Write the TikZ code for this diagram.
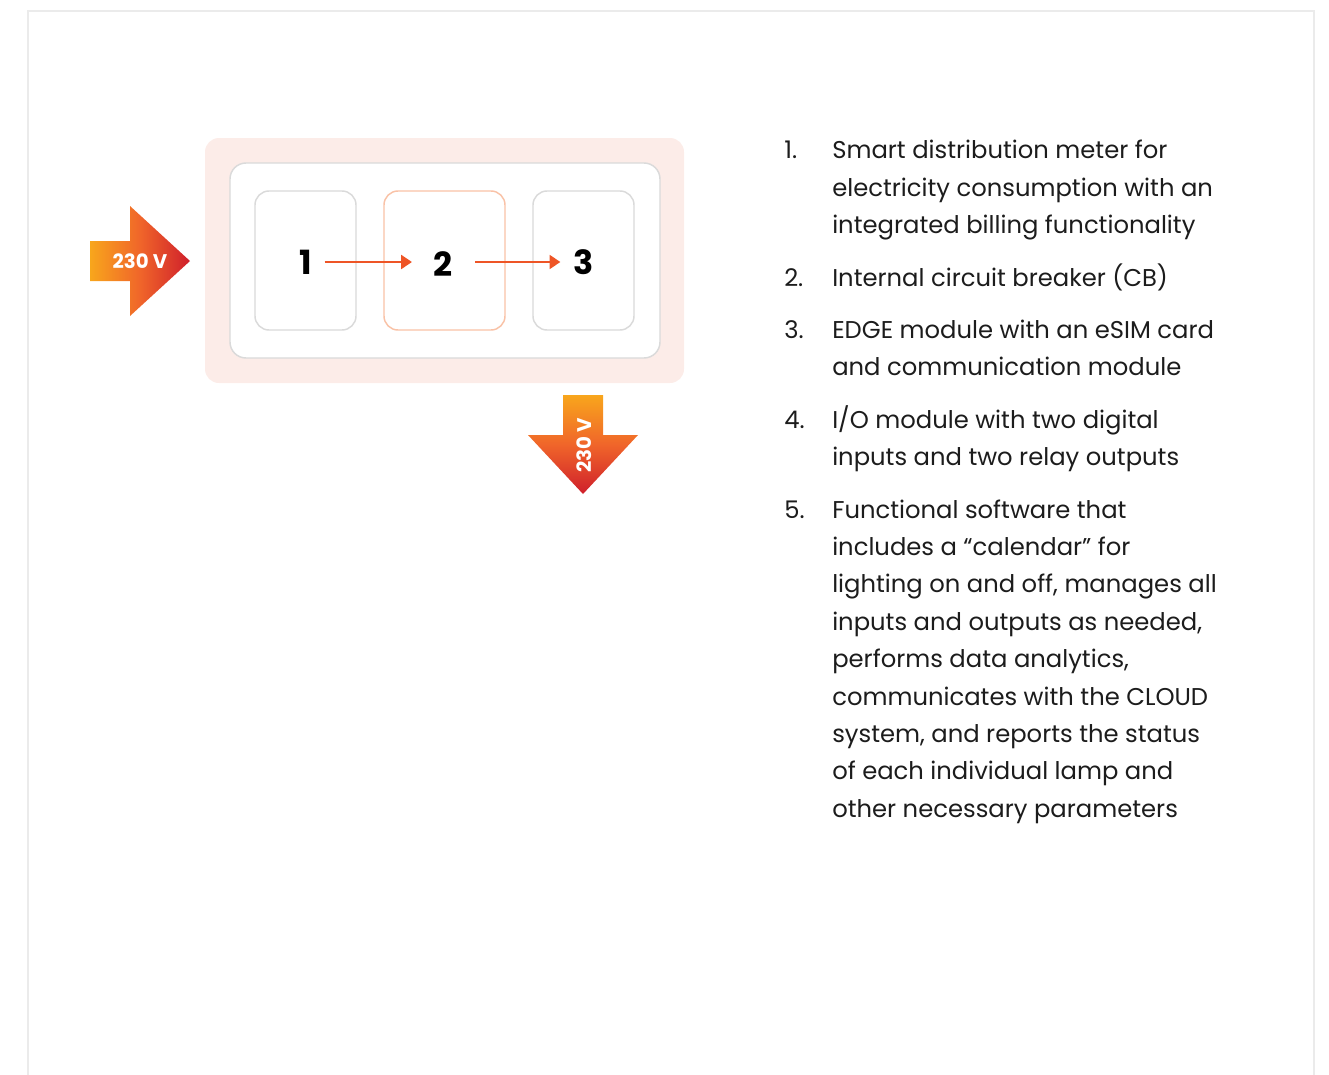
\documentclass[tikz,border=0pt]{standalone}
\usepackage{fontspec}
\setmainfont{Poppins}
\usetikzlibrary{arrows.meta}
\definecolor{framegray}{HTML}{EBEBEB}
\definecolor{pinkbg}{HTML}{FCECE8}
\definecolor{boxgray}{HTML}{DADADA}
\definecolor{boxorange}{HTML}{F9C2A7}
\definecolor{arrred}{HTML}{EE5526}
\definecolor{gradA}{HTML}{F8A61C}
\definecolor{gradB}{HTML}{F0652A}
\definecolor{gradC}{HTML}{CF1F2B}
\definecolor{txt}{HTML}{1C1C1C}
\tikzset{
  cardbox/.style={draw=boxgray, line width=1.1pt, fill=white, rounded corners=10.5pt, minimum height=104.25pt, inner sep=0pt},
  digit/.style={font=\fontsize{25pt}{25pt}\selectfont\bfseries, text=black, inner sep=0pt},
  flow/.style={draw=arrred, line width=1.3pt, -{Triangle[length=8pt,width=10.5pt]}},
  line/.style={anchor=base west, inner sep=0pt, text=txt, font=\fontsize{18.2pt}{18.2pt}\selectfont},
  volt/.style={text=white, font=\fontsize{14.8pt}{14.8pt}\selectfont\bfseries, inner sep=0pt}
}
\begin{document}
\begin{tikzpicture}[x=0.75pt,y=-0.75pt]
\useasboundingbox (0,0) rectangle (1329,1075);
% frame
\draw[framegray, line width=1.5pt] (28,1080) -- (28,11) -- (1314,11) -- (1314,1080);
% panel
\node[fill=pinkbg, rounded corners=10.5pt, minimum width=359.25pt, minimum height=183.75pt, inner sep=0pt] (outer) at (444.5,260.5) {};
\node[draw=boxgray, line width=1.1pt, fill=white, rounded corners=12pt, minimum width=322.5pt, minimum height=146.25pt, inner sep=0pt] (inner) at (445,260.5) {};
\node[cardbox, minimum width=75.75pt] (b1) at (305.5,260.5) {};
\node[cardbox, draw=boxorange, minimum width=90.75pt] (b2) at (444.5,260.5) {};
\node[cardbox, minimum width=75.75pt] (b3) at (583.5,260.5) {};
\node[digit] (n1) at (306,262) {1};
\node[digit] (n2) at (443,264) {2};
\node[digit] (n3) at (584,262) {3};
\draw[flow] ([xshift=9pt]n1.east |- 0,262) -- ([xshift=-16pt]n2.west |- 0,262);
\draw[flow] ([xshift=17pt]n2.east |- 0,262) -- ([xshift=-10pt]n3.west |- 0,262);
% input arrow
\shade[left color=gradA, right color=gradC, middle color=gradB]
  (90,241) -- (130,241) -- (130,206) -- (190,261) -- (130,316) -- (130,281) -- (90,281) -- cycle;
\node[volt] (vin) at (140,261) {230 V};
% output arrow
\shade[top color=gradA, bottom color=gradC, middle color=gradB]
  (563,395) -- (603,395) -- (603,435) -- (638,435) -- (583,494) -- (528,435) -- (563,435) -- cycle;
\node[volt, rotate=90] (vout) at (584,445) {230 V};
% list
\node[line] (k1) at (784,158) {1.};
\node[line] (l1) at (832,158) {Smart distribution meter for};
\node[line] (l2) at (832,196) {electricity consumption with an};
\node[line] (l3) at (832,233) {integrated billing functionality};
\node[line] (k2) at (784,286) {2.};
\node[line] (l4) at (832,286) {Internal circuit breaker (CB)};
\node[line] (k3) at (784,338) {3.};
\node[line] (l5) at (832,338) {EDGE module with an eSIM card};
\node[line] (l6) at (832,375) {and communication module};
\node[line] (k4) at (784,428) {4.};
\node[line] (l7) at (832,428) {I/O module with two digital};
\node[line] (l8) at (832,465) {inputs and two relay outputs};
\node[line] (k5) at (784,518) {5.};
\node[line] (l9) at (832,518) {Functional software that};
\node[line] (l10) at (832,555) {includes a “calendar” for};
\node[line] (l11) at (832,592) {lighting on and off, manages all};
\node[line] (l12) at (832,630) {inputs and outputs as needed,};
\node[line] (l13) at (832,667) {performs data analytics,};
\node[line] (l14) at (832,705) {communicates with the CLOUD};
\node[line] (l15) at (832,742) {system, and reports the status};
\node[line] (l16) at (832,779) {of each individual lamp and};
\node[line] (l17) at (832,817) {other necessary parameters};
\end{tikzpicture}
\end{document}
